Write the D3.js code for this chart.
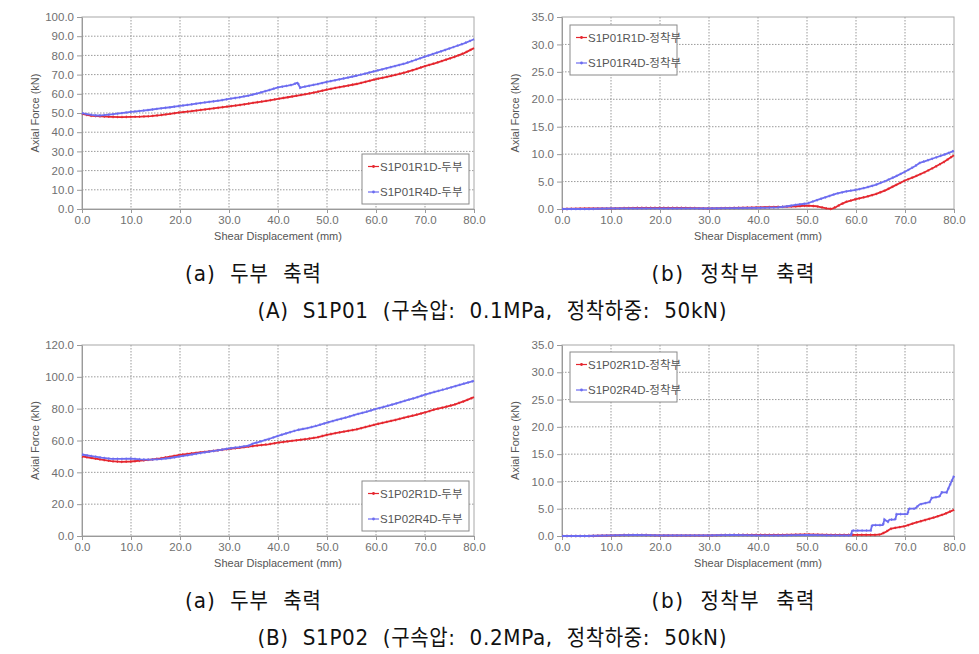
<!DOCTYPE html>
<html lang="ko">
<head>
<meta charset="utf-8">
<title>S1P01 / S1P02 Axial Force</title>
<script src="https://cdnjs.cloudflare.com/ajax/libs/d3/7.8.5/d3.min.js"></script>
<style>
  body { margin: 0; background: #fff; }
  svg { display: block; }
  .tick text { font-family: "Liberation Sans", Arial, sans-serif; font-size: 11.5px; fill: #707070; }
  .axis path, .axis line { stroke: #9a9a9a; }
  .grid line { stroke: #9a9a9a; stroke-dasharray: 1.5 1.5; }
  .atitle { font-family: "Liberation Sans", Arial, sans-serif; font-size: 11px; fill: #555; }
  .legend text { font-family: "Liberation Sans", "Noto Sans CJK KR", sans-serif; font-size: 11.5px; fill: #555; }
  .caption { font-family: "DejaVu Sans", "Noto Sans CJK KR", sans-serif; font-size: 20px; fill: #111; white-space: pre; }
</style>
</head>
<body>
<div id="chart"></div>
<script>
// ---- data ----
// (A) S1P01, head axial force
const xA_headR1D = [0,1,2,4,6,8,10,12,14,16,18,20,22,24,26,28,30,32,34,36,38,40,42,44,46,48,50,52,54,56,58,60,62,64,66,68,70,72,74,76,78,80];
const yA_headR1D = [49.6,49.0,48.5,48.2,48.0,47.9,48.0,48.1,48.4,48.9,49.6,50.3,50.9,51.5,52.1,52.8,53.4,54.1,54.9,55.7,56.5,57.4,58.2,59.1,60.0,61.0,62.2,63.2,64.1,65.1,66.3,67.6,68.7,69.9,71.2,72.7,74.4,75.9,77.5,79.2,81.2,83.8];
const xA_headR4D = [0,1,2,3,4,6,8,10,12,14,16,18,20,22,24,26,28,30,32,34,36,38,40,42,43,44,44.5,46,48,50,52,54,56,58,60,62,64,66,68,70,72,74,76,78,80];
const yA_headR4D = [49.9,49.4,49.0,48.7,48.8,49.3,49.9,50.6,51.1,51.7,52.4,53.0,53.7,54.4,55.1,55.8,56.5,57.3,58.1,59.1,60.3,61.8,63.3,64.2,64.8,65.8,63.2,64.0,65.0,66.2,67.2,68.3,69.4,70.7,72.0,73.2,74.5,75.9,77.6,79.4,81.0,82.7,84.5,86.3,88.4];

// (A) S1P01, anchor axial force
const xA_ancR1D = [0,5,10,15,20,25,30,35,40,45,48,50,52,53,54,55,56,57,58,60,62,64,66,68,70,72,74,76,78,80];
const yA_ancR1D = [0,0.1,0.1,0.2,0.2,0.2,0.1,0.2,0.3,0.4,0.5,0.6,0.5,0.3,0.1,0,0.4,0.9,1.3,1.8,2.2,2.7,3.4,4.3,5.2,5.9,6.7,7.6,8.6,9.8];
const xA_ancR4D = [0,5,10,20,30,40,44,46,48,50,52,54,56,58,60,62,64,66,68,70,72,73,74,76,78,80];
const yA_ancR4D = [0,0,0.1,0.1,0.1,0.2,0.3,0.5,0.8,1.0,1.6,2.2,2.8,3.2,3.5,3.9,4.4,5.1,5.9,6.8,7.8,8.4,8.7,9.3,9.9,10.6];

// (B) S1P02, head axial force
const xB_headR1D = [0,2,4,6,8,10,12,14,16,18,20,22,24,26,28,30,32,34,36,38,40,42,44,46,48,50,52,54,56,58,60,62,64,66,68,70,72,74,76,78,80];
const yB_headR1D = [50.0,49.0,48.0,47.0,46.6,46.8,47.3,48.0,48.8,49.8,51.0,51.8,52.5,53.2,53.9,54.7,55.4,56.2,56.9,57.6,58.6,59.4,60.2,61.0,62.0,63.6,64.8,65.9,67.0,68.6,70.2,71.6,72.9,74.5,76.0,77.6,79.5,80.9,82.6,84.7,87.2];
const xB_headR4D = [0,2,4,6,8,10,12,14,16,18,20,22,24,26,28,30,32,34,35,36,38,40,42,44,46,48,50,52,54,56,58,60,62,64,66,68,70,72,74,76,78,80];
const yB_headR4D = [51.2,50.2,49.2,48.5,48.4,48.6,48.2,48.0,48.3,49.0,50.0,51.0,52.0,53.0,54.0,55.0,55.8,56.8,58.2,59.0,60.8,62.9,64.8,66.6,67.8,69.4,71.2,72.9,74.5,76.4,78.0,79.8,81.5,83.2,85.0,86.8,88.8,90.6,92.2,94.0,95.8,97.5];

// (B) S1P02, anchor axial force
const xB_ancR1D = [0,5,10,15,20,25,30,35,40,45,50,55,58,60,62,64,65,66,67,68,70,72,74,76,78,80];
const yB_ancR1D = [0,0,0.1,0.2,0.1,0.1,0.1,0.2,0.2,0.2,0.3,0.2,0.2,0.2,0.2,0.2,0.3,0.7,1.3,1.5,1.8,2.4,2.9,3.4,4.0,4.8];
const xB_ancR4D = [0,5,10,15,20,25,30,35,40,45,50,55,58,59,59.2,63,63.3,65.5,65.8,66.5,66.8,68,68.3,70.5,70.8,72,73,75,75.5,77,77.5,78.5,80];
const yB_ancR4D = [0,0,0.1,0.2,0.1,0.1,0.1,0.2,0.1,0.1,0.2,0.1,0.1,0.1,1.0,1.0,2.0,2.0,3.0,2.6,3.0,3.0,4.0,4.0,5.0,5.0,5.8,6.2,7.0,7.2,8.0,8.0,11.0];

const xTicks = [0,10,20,30,40,50,60,70,80];
const yTicksHeadA = [0,10,20,30,40,50,60,70,80,90,100];
const yTicksHeadB = [0,20,40,60,80,100,120];
const yTicksAnchor = [0,5,10,15,20,25,30,35];

const captionsA = ["(a)  두부  축력", "(b)  정착부  축력", "(A)  S1P01  (구속압:  0.1MPa,  정착하중:  50kN)"];
const captionsB = ["(a)  두부  축력", "(b)  정착부  축력", "(B)  S1P02  (구속압:  0.2MPa,  정착하중:  50kN)"];

const red = "#e5262e";
const blue = "#6c6cf0";

// ---- layout ----
const width = 979, height = 654;
const svg = d3.select("#chart").append("svg")
  .attr("width", width).attr("height", height);

function zip(xs, ys) { return xs.map((x, i) => [x, ys[i]]); }

function plotPanel(p) {
  const g = svg.append("g").attr("transform", `translate(${p.left},${p.top})`);
  const w = p.w, h = p.h;
  const x = d3.scaleLinear().domain([0, 80]).range([0, w]);
  const y = d3.scaleLinear().domain([0, d3.max(p.yTicks)]).range([h, 0]);

  // grid
  g.append("g").attr("class", "grid")
    .selectAll("line.v").data(xTicks.slice(1, -1)).enter().append("line")
    .attr("x1", d => x(d)).attr("x2", d => x(d)).attr("y1", 0).attr("y2", h);
  g.append("g").attr("class", "grid")
    .selectAll("line.h").data(p.yTicks.slice(1, -1)).enter().append("line")
    .attr("x1", 0).attr("x2", w).attr("y1", d => y(d)).attr("y2", d => y(d));

  // frame
  g.append("rect").attr("width", w).attr("height", h)
    .attr("fill", "none").attr("stroke", "#a8a8a8");

  // axes
  g.append("g").attr("class", "axis")
    .attr("transform", `translate(0,${h})`)
    .call(d3.axisBottom(x).tickValues(xTicks).tickFormat(d3.format(".1f")).tickSize(4).tickSizeOuter(0).tickPadding(3));
  g.append("g").attr("class", "axis")
    .call(d3.axisLeft(y).tickValues(p.yTicks).tickFormat(d3.format(".1f")).tickSize(5).tickSizeOuter(0).tickPadding(3));

  // titles
  g.append("text").attr("class", "atitle")
    .attr("x", w / 2).attr("y", h + 31).attr("text-anchor", "middle")
    .text("Shear Displacement (mm)");
  g.append("text").attr("class", "atitle")
    .attr("transform", `translate(${-43},${h / 2}) rotate(-90)`)
    .attr("text-anchor", "middle")
    .text("Axial Force (kN)");

  // lines
  const line = d3.line().x(d => x(d[0])).y(d => y(d[1]));
  p.series.forEach(s => {
    const pts = zip(s.xs, s.ys);
    g.append("path").datum(pts)
      .attr("fill", "none").attr("stroke", s.color)
      .attr("stroke-width", 1.8).attr("stroke-linejoin", "round")
      .attr("d", line);
    g.append("path").datum(pts)
      .attr("fill", "none").attr("stroke", s.color)
      .attr("stroke-width", 2.6).attr("stroke-dasharray", "1.2 3.2")
      .attr("opacity", 0.8)
      .attr("d", line);
  });

  // legend
  const lg = g.append("g").attr("class", "legend")
    .attr("transform", `translate(${p.legend[0]},${p.legend[1]})`);
  lg.append("rect").attr("width", 107).attr("height", 50)
    .attr("fill", "#fff").attr("stroke", "#8a8a8a");
  p.series.forEach((s, i) => {
    const yy = 12.5 + i * 25.5;
    lg.append("line").attr("x1", 6).attr("x2", 17).attr("y1", yy).attr("y2", yy)
      .attr("stroke", s.color).attr("stroke-width", 1.2);
    lg.append("circle").attr("cx", 11.5).attr("cy", yy).attr("r", 1.4).attr("fill", s.color);
    lg.append("text").attr("x", 18).attr("y", yy + 4).text(s.name);
  });
}

const colL = 82, colR = 562, pw = 392;

plotPanel({ left: colL, top: 17, w: pw, h: 192, yTicks: yTicksHeadA, legend: [280, 137],
  series: [
    { name: "S1P01R1D-두부", xs: xA_headR1D, ys: yA_headR1D, color: red },
    { name: "S1P01R4D-두부", xs: xA_headR4D, ys: yA_headR4D, color: blue }
  ] });
plotPanel({ left: colR, top: 17, w: pw, h: 192, yTicks: yTicksAnchor, legend: [8, 8],
  series: [
    { name: "S1P01R1D-정착부", xs: xA_ancR1D, ys: yA_ancR1D, color: red },
    { name: "S1P01R4D-정착부", xs: xA_ancR4D, ys: yA_ancR4D, color: blue }
  ] });
plotPanel({ left: colL, top: 345, w: pw, h: 191, yTicks: yTicksHeadB, legend: [280, 136],
  series: [
    { name: "S1P02R1D-두부", xs: xB_headR1D, ys: yB_headR1D, color: red },
    { name: "S1P02R4D-두부", xs: xB_headR4D, ys: yB_headR4D, color: blue }
  ] });
plotPanel({ left: colR, top: 345, w: pw, h: 191, yTicks: yTicksAnchor, legend: [8, 7],
  series: [
    { name: "S1P02R1D-정착부", xs: xB_ancR1D, ys: yB_ancR1D, color: red },
    { name: "S1P02R4D-정착부", xs: xB_ancR4D, ys: yB_ancR4D, color: blue }
  ] });

// captions (a little taller than the plain font, like the original)
function caption(txt, cx, baseline, len) {
  svg.append("text").attr("class", "caption")
    .attr("transform", `translate(${cx},${baseline}) scale(1,1.08)`)
    .attr("text-anchor", "middle")
    .attr("textLength", len).attr("lengthAdjust", "spacing")
    .text(txt);
}
caption(captionsA[0], 253, 281, 136);
caption(captionsA[1], 733, 281, 163);
caption(captionsA[2], 492, 318, 469);
caption(captionsB[0], 253, 608, 136);
caption(captionsB[1], 733, 608, 163);
caption(captionsB[2], 492, 645, 469);
</script>
</body>
</html>
